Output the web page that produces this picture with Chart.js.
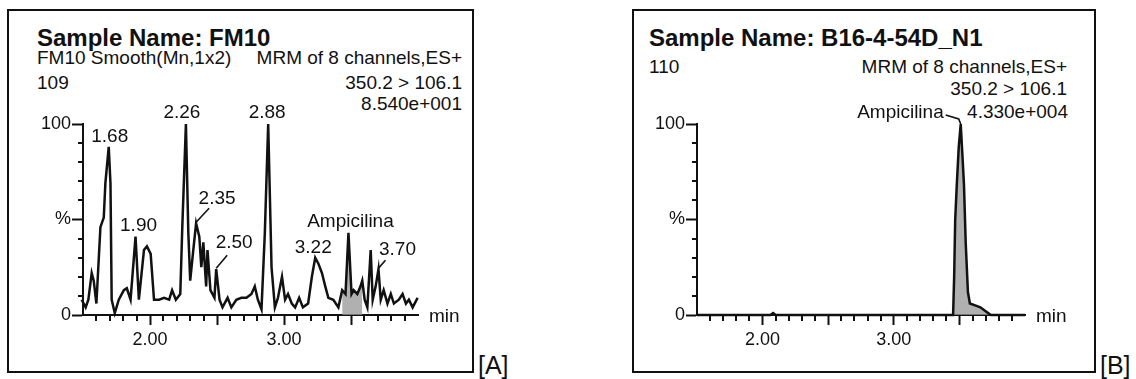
<!DOCTYPE html>
<html lang="en">
<head>
<meta charset="UTF-8">
<title>Chromatograms FM10 / B16-4-54D_N1</title>
<script src="https://cdn.jsdelivr.net/npm/chart.js@4"></script>
<style>
  body { margin:0; width:1136px; height:379px; background:#fff; position:relative; overflow:hidden;
         font-family:"Liberation Sans", Arial, sans-serif; color:#111; }
  .frame { position:absolute; border:2px solid #111; box-sizing:border-box; }
  .txt { position:absolute; white-space:nowrap; font-size:19px; line-height:20px; }
  .title { font-weight:bold; font-size:24px; line-height:24px; }
  .tag { position:absolute; font-size:25px; line-height:26px; }
  canvas { position:absolute; top:0; }
</style>
</head>
<body>
<!-- panel frames -->
<div class="frame" style="left:7px;top:9px;width:467px;height:364px"></div>
<div class="frame" style="left:632px;top:9px;width:464px;height:364px"></div>

<!-- headers A -->
<div class="txt title" style="left:37px;top:26px">Sample Name: FM10</div>
<div class="txt" style="left:37px;top:48px">FM10 Smooth(Mn,1x2)</div>
<div class="txt" style="right:674px;top:48px">MRM of 8 channels,ES+</div>
<div class="txt" style="left:37px;top:73px">109</div>
<div class="txt" style="right:674px;top:73px">350.2 &gt; 106.1</div>
<div class="txt" style="right:674px;top:94px">8.540e+001</div>
<div class="tag" style="left:478px;top:352px">[A]</div>

<!-- headers B -->
<div class="txt title" style="left:649px;top:26px">Sample Name: B16-4-54D_N1</div>
<div class="txt" style="left:649px;top:57px">110</div>
<div class="txt" style="right:69px;top:57px">MRM of 8 channels,ES+</div>
<div class="txt" style="right:69px;top:79px">350.2 &gt; 106.1</div>
<div class="txt" style="right:68px;top:102px">4.330e+004</div>
<div class="tag" style="left:1100px;top:352px">[B]</div>

<canvas id="chartA" width="480" height="379" style="left:0"></canvas>
<canvas id="chartB" width="480" height="379" style="left:620px"></canvas>

<script>
// ---- data: retention time (min) and relative intensity (%) ----
const timesA = [1.49, 1.52, 1.54, 1.565, 1.58, 1.60, 1.63, 1.655, 1.667, 1.692, 1.705, 1.714, 1.737, 1.767,
  1.805, 1.827, 1.855, 1.892, 1.917, 1.955, 1.977, 2.005, 2.03, 2.068, 2.105, 2.143, 2.165, 2.193, 2.226,
  2.241, 2.268, 2.286, 2.30, 2.323, 2.344, 2.368, 2.383, 2.398, 2.419, 2.429, 2.451, 2.481, 2.494, 2.519,
  2.541, 2.579, 2.607, 2.644, 2.682, 2.72, 2.757, 2.782, 2.805, 2.832, 2.857, 2.882, 2.907, 2.932, 2.955,
  2.985, 3.008, 3.03, 3.058, 3.083, 3.113, 3.141, 3.18, 3.208, 3.233, 3.256, 3.283, 3.308, 3.331, 3.368,
  3.406, 3.434, 3.459, 3.481, 3.504, 3.519, 3.547, 3.571, 3.584, 3.602, 3.622, 3.647, 3.662, 3.684, 3.705,
  3.722, 3.744, 3.772, 3.797, 3.82, 3.857, 3.885, 3.91, 3.932, 3.96, 3.997];
const intensityA = [8, 4, 8, 22, 18, 6, 46, 51, 69, 88, 69, 8, 1, 8,
  13, 14, 8, 41, 8, 34, 36, 32, 8, 8, 9, 8, 13, 8, 11,
  46, 100, 43, 18, 34, 48, 41, 25, 38, 15, 34, 13, 9, 24, 8,
  4, 9, 4, 8, 9, 9, 11, 15, 8, 3, 43, 100, 25, 4, 9,
  20, 8, 11, 6, 4, 9, 4, 6, 20, 30, 27, 22, 15, 9, 8,
  4, 13, 11, 43, 11, 13, 11, 15, 18, 8, 4, 34, 8, 15, 24,
  8, 13, 6, 11, 6, 8, 11, 6, 8, 4, 9];
const shadeA = [3.43, 3.59];   // integrated Ampicilina window

const peakTextA = ['1.68', '1.90', '2.26', '2.35', '2.50', '2.88', '3.22', 'Ampicilina', '3.70'];
const peakTimeA = [1.692, 1.892, 2.268, 2.344, 2.494, 2.882, 3.233, 3.481, 3.705];
const peakValA  = [88, 41, 100, 48, 24, 100, 30, 43, 24];

const timesB = [1.5, 2.06, 2.08, 2.10, 3.44, 3.452, 3.46, 3.468, 3.48, 3.495, 3.51, 3.522, 3.535, 3.548,
  3.565, 3.58, 3.62, 3.66, 3.70, 3.74, 4.0];
const intensityB = [0, 0, 1, 0, 0, 0, 20, 50, 68, 88, 100, 85, 68, 38,
  12, 6, 5, 4, 2, 0, 0];
const shadeB = [3.45, 3.75];

const peakTextB = ['Ampicilina'];
const peakTimeB = [3.51];
const peakValB  = [100];

const xLabelTimes = [2, 3];    // labelled retention times

// ---- styling ----
const ink = '#111';
const font = '"Liberation Sans", Arial, sans-serif';
Chart.defaults.font.family = font;
Chart.defaults.color = ink;

// label placement relative to the apex pixel (dx, dy, optional leader polyline)
const layoutA = [
  {dx: 1, dy: -10}, {dx: 3, dy: -11}, {dx: -4, dy: -11},
  {dx: 21, dy: -25, leader: [[13, -15], [0, -1]]},
  {dx: 18, dy: -26, leader: [[11, -14], [0, -1]]},
  {dx: -1, dy: -11}, {dx: -2, dy: -10}, {dx: 2, dy: -11},
  {dx: 19, dy: -19, leader: [[7, -9], [0, -1]]}
];
const layoutB = [{dx: -17, dy: -11, align: 'right', leader: [[-15, -9], [-2, -5], [0, 0]]}];

const near = (v, step) => Math.abs(v / step - Math.round(v / step)) < 1e-6;

function peakPlugin(text, time, value, layout) {
  return {
    id: 'peakLabels',
    afterDatasetsDraw(chart) {
      const {ctx, scales: {x, y}} = chart;
      ctx.save();
      ctx.fillStyle = ink;
      ctx.strokeStyle = ink;
      ctx.lineWidth = 1.6;
      ctx.font = '19px ' + font;
      ctx.textBaseline = 'middle';
      text.forEach((t, i) => {
        const px = x.getPixelForValue(time[i]);
        const py = y.getPixelForValue(value[i]);
        const l = layout[i];
        if (l.leader) {
          ctx.beginPath();
          l.leader.forEach(([dx, dy], k) => k ? ctx.lineTo(px + dx, py + dy) : ctx.moveTo(px + dx, py + dy));
          ctx.stroke();
        }
        ctx.textAlign = l.align || 'center';
        ctx.fillText(t, px + l.dx, py + l.dy);
      });
      ctx.restore();
    }
  };
}

// short minor ticks + "min" unit
const axisExtras = {
  id: 'axisExtras',
  afterDraw(chart) {
    const {ctx, chartArea: a, scales: {x, y}} = chart;
    ctx.save();
    ctx.strokeStyle = ink;
    ctx.lineWidth = 2;
    ctx.beginPath();
    x.ticks.forEach(t => {
      if (near(t.value, 0.5)) return;
      const px = Math.round(x.getPixelForValue(t.value));
      ctx.moveTo(px, a.bottom);
      ctx.lineTo(px, a.bottom + 6);
    });
    y.ticks.forEach(t => {
      if (near(t.value, 50)) return;
      const py = Math.round(y.getPixelForValue(t.value));
      ctx.moveTo(a.left - 5, py);
      ctx.lineTo(a.left, py);
    });
    ctx.stroke();
    ctx.fillStyle = ink;
    ctx.font = '19px ' + font;
    ctx.textAlign = 'left';
    ctx.textBaseline = 'middle';
    ctx.fillText('min', a.right + 11, a.bottom + 2);
    ctx.restore();
  }
};

function makeChart(id, times, vals, shade, peaks, yWidth, rightPad) {
  const pts = times.map((t, i) => ({x: t, y: vals[i]}));
  const shaded = pts.filter(p => p.x >= shade[0] && p.x <= shade[1]);
  return new Chart(document.getElementById(id), {
    type: 'scatter',
    data: {
      datasets: [
        {data: pts, showLine: true, borderColor: ink, borderWidth: 2.5, pointRadius: 0,
         tension: 0, clip: false, order: 0},
        {data: shaded, showLine: true, borderWidth: 0, pointRadius: 0, fill: 'origin',
         backgroundColor: 'rgba(150,150,150,0.75)', clip: false, order: 1}
      ]
    },
    options: {
      responsive: false,
      animation: false,
      events: [],
      layout: {padding: {left: 0, top: 124, right: rightPad, bottom: 0}},
      plugins: {legend: {display: false}, tooltip: {enabled: false}},
      scales: {
        x: {
          type: 'linear', min: 1.5, max: 4.0,
          border: {color: ink, width: 2},
          grid: {drawOnChartArea: false, tickLength: 10, tickWidth: 2,
                 tickColor: c => (near(c.tick.value, 0.5) && c.tick.value > 1.55 && c.tick.value < 3.95) ? ink : 'rgba(0,0,0,0)'},
          ticks: {stepSize: 0.1, autoSkip: false, maxRotation: 0, padding: 4, color: ink,
                  font: {size: 18},
                  callback: v => xLabelTimes.some(t => Math.abs(t - v) < 1e-6) ? v.toFixed(2) : ''},
          afterFit: s => { s.height = 64; }
        },
        y: {
          min: 0, max: 100,
          border: {color: ink, width: 2},
          grid: {drawOnChartArea: false, tickLength: 11, tickWidth: 2,
                 tickColor: c => near(c.tick.value, 50) ? ink : 'rgba(0,0,0,0)'},
          ticks: {stepSize: 10, autoSkip: false, padding: 1, color: ink, font: {size: 18},
                  callback: v => v === 100 ? '100' : v === 50 ? '%' : v === 0 ? '0' : ''},
          afterFit: s => { s.width = yWidth; }
        }
      }
    },
    plugins: [axisExtras, peaks]
  });
}

makeChart('chartA', timesA, intensityA, shadeA,
  peakPlugin(peakTextA, peakTimeA, peakValA, layoutA), 83, 62);
makeChart('chartB', timesB, intensityB, shadeB,
  peakPlugin(peakTextB, peakTimeB, peakValB, layoutB), 77, 75);
</script>
</body>
</html>
